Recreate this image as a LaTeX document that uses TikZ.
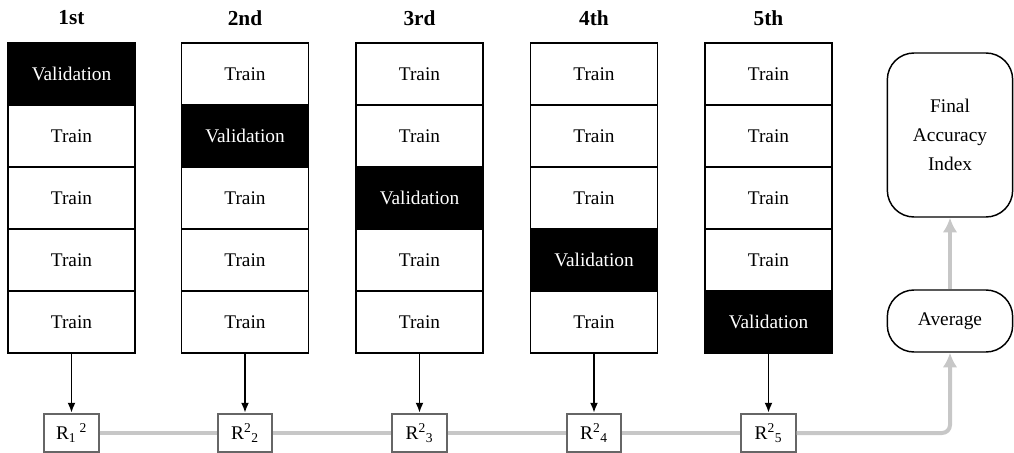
\documentclass[tikz,border=0pt]{standalone}
\usepackage{fontspec}
\setmainfont{Liberation Serif}
\usetikzlibrary{arrows.meta}

\begin{document}
\begin{tikzpicture}[x=0.75pt, y=-0.75pt,
  cell/.style={draw=black, line width=1.1pt, minimum width=95.25pt, minimum height=46.5pt, inner sep=0pt, font=\fontsize{14.5}{16}\selectfont},
  val/.style={cell, fill=black, text=white},
  head/.style={font=\fontsize{16}{18}\selectfont\bfseries},
  rbox/.style={draw=black!60, line width=1.3pt, fill=white, minimum width=41pt, minimum height=29pt, inner sep=0pt, font=\fontsize{14.5}{16}\selectfont},
  pill/.style={draw=black, line width=1.1pt, rounded corners=20pt, minimum width=94pt, align=center, font=\fontsize{14.5}{21.5}\selectfont},
  blackarrow/.style={-{Latex[length=7.5pt,width=6pt]}, line width=1.4pt, draw=black},
  greyline/.style={draw=black!22, line width=3pt}]
\useasboundingbox (0,0) rectangle (1014,453);
% fold headers
\node[head] (H1) at (71.5, 18) {1st};
\node[head] (H2) at (245, 18) {2nd};
\node[head] (H3) at (419.5, 18) {3rd};
\node[head] (H4) at (594, 18) {4th};
\node[head] (H5) at (768.5, 18) {5th};
% 1st fold
\node[val]  (A1) at (71.5, 74) {Validation};
\node[cell] (A2) at (71.5, 136) {Train};
\node[cell] (A3) at (71.5, 198) {Train};
\node[cell] (A4) at (71.5, 260) {Train};
\node[cell] (A5) at (71.5, 322) {Train};
% 2nd fold
\node[cell] (B1) at (245, 74) {Train};
\node[val]  (B2) at (245, 136) {Validation};
\node[cell] (B3) at (245, 198) {Train};
\node[cell] (B4) at (245, 260) {Train};
\node[cell] (B5) at (245, 322) {Train};
% 3rd fold
\node[cell] (C1) at (419.5, 74) {Train};
\node[cell] (C2) at (419.5, 136) {Train};
\node[val]  (C3) at (419.5, 198) {Validation};
\node[cell] (C4) at (419.5, 260) {Train};
\node[cell] (C5) at (419.5, 322) {Train};
% 4th fold
\node[cell] (D1) at (594, 74) {Train};
\node[cell] (D2) at (594, 136) {Train};
\node[cell] (D3) at (594, 198) {Train};
\node[val]  (D4) at (594, 260) {Validation};
\node[cell] (D5) at (594, 322) {Train};
% 5th fold
\node[cell] (E1) at (768.5, 74) {Train};
\node[cell] (E2) at (768.5, 136) {Train};
\node[cell] (E3) at (768.5, 198) {Train};
\node[cell] (E4) at (768.5, 260) {Train};
\node[val]  (E5) at (768.5, 322) {Validation};
% scores
\node[rbox] (R1) at (71.5, 433) {R\textsubscript{1}\,\textsuperscript{2}};
\node[rbox] (R2) at (245, 433) {R\textsuperscript{2}\textsubscript{2}};
\node[rbox] (R3) at (419.5, 433) {R\textsuperscript{2}\textsubscript{3}};
\node[rbox] (R4) at (594, 433) {R\textsuperscript{2}\textsubscript{4}};
\node[rbox] (R5) at (768.5, 433) {R\textsuperscript{2}\textsubscript{5}};
\node[pill, minimum height=46.5pt] (avg) at (950, 321) {Average};
\node[pill, minimum height=123pt] (final) at (950, 135) {Final\\Accuracy\\Index};
\coordinate (turn) at (950, 433);
% connectors
\path [blackarrow] (A5) edge (R1);
\path [blackarrow] (B5) edge (R2);
\path [blackarrow] (C5) edge (R3);
\path [blackarrow] (D5) edge (R4);
\path [blackarrow] (E5) edge (R5);
\path [greyline] (R1) -- (R2);
\path [greyline] (R2) -- (R3);
\path [greyline] (R3) -- (R4);
\path [greyline] (R4) -- (R5);
\path [greyline, rounded corners=6pt, -{Latex[length=11pt,width=11pt]}] (R5) -- (turn) -- (avg);
\path [greyline, -{Latex[length=11pt,width=11pt]}] (avg) -- (final);
\end{tikzpicture}
\end{document}
